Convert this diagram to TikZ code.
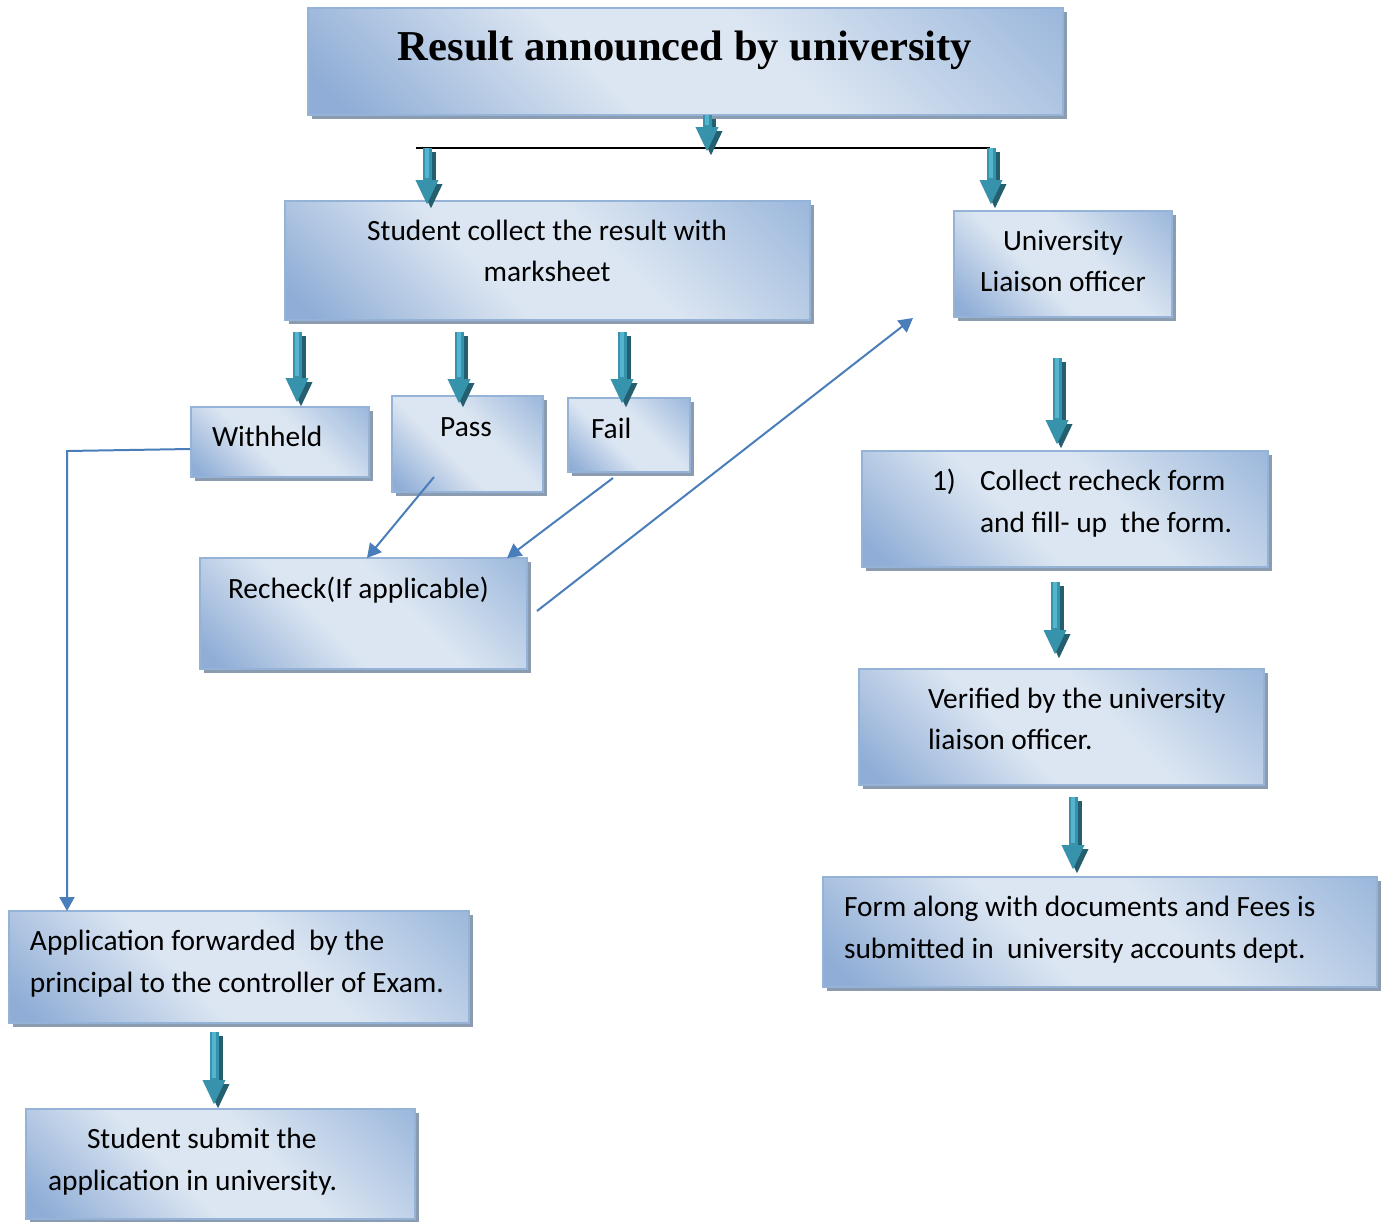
\documentclass[tikz,border=0pt]{standalone}
\usepackage{fontspec}
\setmainfont{Carlito}
\newfontfamily\titlefont{Liberation Serif}
\usetikzlibrary{arrows.meta,shadows,calc}
\definecolor{bxdark}{HTML}{8FADD6}
\definecolor{bxlight}{HTML}{DCE6F2}
\definecolor{bxmid}{HTML}{9CB8DC}
\definecolor{bxline}{HTML}{95B3D7}
\definecolor{shgray}{HTML}{8C9CB0}
\definecolor{tealbody}{HTML}{3793AB}
\definecolor{tealhi}{HTML}{55B5CE}
\definecolor{tealdark}{HTML}{235F6F}
\definecolor{connblue}{HTML}{4A7EBB}
\pgfdeclarehorizontalshading{boxsh}{100bp}{color(0bp)=(bxdark); color(18bp)=(bxdark); color(42bp)=(bxlight); color(58bp)=(bxlight); color(85bp)=(bxmid); color(100bp)=(bxmid)}
\tikzset{
  box/.style={rectangle, draw=bxline, line width=1pt, shading=boxsh, shading angle=45,
    inner sep=0pt, outer sep=0pt,
    general shadow={fill=shgray, shadow xshift=2pt, shadow yshift=-2pt}},
  txt/.style={inner sep=0pt, outer sep=0pt, font=\fontsize{14.7}{17}\selectfont},
  ttl/.style={inner sep=0pt, outer sep=0pt, font=\titlefont\fontsize{21.3}{25}\selectfont\bfseries},
  tbody/.style={draw=tealbody, line width=4.5pt, -{Triangle[width=10.5pt,length=12.5pt]}},
  tshadow/.style={draw=tealdark, line width=4.5pt, -{Triangle[width=10.5pt,length=12.5pt]}},
  thigh/.style={draw=tealhi, line width=1.6pt},
  conn/.style={draw=connblue, line width=1pt, -{Triangle[width=7.5pt,length=7pt]}},
  bar/.style={draw=black, line width=1pt}
}
\newcommand\tarr[2]{%
  \draw[tshadow] ($(#1)+(4,4)$) -- ($(#2)+(4,4)$);
  \draw[tbody] (#1) -- (#2);
  \draw[thigh] (#1) -- ($(#2)+(0,-27)$);
}
\begin{document}
\begin{tikzpicture}[x=0.5pt,y=-0.5pt]
\fill[white] (0,0) rectangle (1383,1222);
\useasboundingbox (0,0) rectangle (1383,1222);

% boxes
\node[box, minimum width=377.5pt, minimum height=53.5pt] (title) at (685.5,61.5) {};
\node[box, minimum width=262.5pt, minimum height=59.5pt] (stud) at (547.5,260.5) {};
\node[box, minimum width=109pt, minimum height=53pt] (ulo) at (1063,264) {};
\node[box, minimum width=89pt, minimum height=35pt] (with) at (280,442) {};
\node[box, minimum width=75.5pt, minimum height=48pt] (pass) at (467.5,444) {};
\node[box, minimum width=61pt, minimum height=37pt] (fail) at (629,435) {};
\node[box, minimum width=163.5pt, minimum height=55.5pt] (rech) at (363.5,613.5) {};
\node[box, minimum width=203pt, minimum height=58pt] (coll) at (1065,509) {};
\node[box, minimum width=202.5pt, minimum height=58pt] (veri) at (1061.5,727) {};
\node[box, minimum width=277pt, minimum height=55pt] (form) at (1100,932) {};
\node[box, minimum width=230pt, minimum height=56pt] (appl) at (239,967) {};
\node[box, minimum width=194.5pt, minimum height=55pt] (subm) at (220.5,1164) {};

% texts
\node[ttl, anchor=base] (titleT) at (685,60) {Result announced by university};
\node[txt, anchor=base] (studT1) at (547,240) {Student collect the result with};
\node[txt, anchor=base] (studT2) at (547,281) {marksheet};
\node[txt, anchor=base] (uloT1) at (1063,250) {University};
\node[txt, anchor=base] (uloT2) at (1063,291) {Liaison officer};
\node[txt, anchor=base west] (withT) at (212,446) {Withheld};
\node[txt, anchor=base] (passT) at (466,436) {Pass};
\node[txt, anchor=base west] (failT) at (591,438) {Fail};
\node[txt, anchor=base west] (rechT) at (228,598) {Recheck(If applicable)};
\node[txt, anchor=base west] (collN) at (932,490) {1)};
\node[txt, anchor=base west] (collT1) at (980,490) {Collect recheck form};
\node[txt, anchor=base west] (collT2) at (980,532) {and fill- up\ \ the form.};
\node[txt, anchor=base west] (veriT1) at (928,708) {Verified by the university};
\node[txt, anchor=base west] (veriT2) at (928,749) {liaison officer.};
\node[txt, anchor=base west] (formT1) at (844,916) {Form along with documents and Fees is};
\node[txt, anchor=base west] (formT2) at (844,958) {submitted in\ \ university accounts dept.};
\node[txt, anchor=base west] (applT1) at (30,950) {Application forwarded\ \ by the};
\node[txt, anchor=base west] (applT2) at (30,992) {principal to the controller of Exam.};
\node[txt, anchor=base west] (submT1) at (87,1148) {Student submit the};
\node[txt, anchor=base west] (submT2) at (48,1190) {application in university.};

% connector coordinates
\coordinate (barL) at (416,148);
\coordinate (barR) at (990,148);
\coordinate (a0s) at (707,115);  \coordinate (a0e) at (707,152);
\coordinate (a1s) at (427,148);  \coordinate (a1e) at (427,205);
\coordinate (a2s) at (991,148);  \coordinate (a2e) at (991,205);
\coordinate (a3s) at (297,332);  \coordinate (a3e) at (297,403);
\coordinate (a4s) at (459,332);  \coordinate (a4e) at (459,404);
\coordinate (a5s) at (622,332);  \coordinate (a5e) at (622,404);
\coordinate (a6s) at (1057,358); \coordinate (a6e) at (1057,445);
\coordinate (a7s) at (1055,582); \coordinate (a7e) at (1055,655);
\coordinate (a8s) at (1073,797); \coordinate (a8e) at (1073,870);
\coordinate (a9s) at (214,1032); \coordinate (a9e) at (214,1105);

\coordinate (wS) at (190,449);
\coordinate (wK) at (67,451);
\coordinate (wE) at (67,911);
\coordinate (pS) at (434,477);
\coordinate (pE) at (367,558);
\coordinate (fS) at (613,478);
\coordinate (fE) at (507,558);
\coordinate (rS) at (537,611);
\coordinate (rE) at (913,318);

% black bar
\draw[bar] (barL) -- (barR);

% teal arrows
\tarr{a0s}{a0e}
\tarr{a1s}{a1e}
\tarr{a2s}{a2e}
\tarr{a3s}{a3e}
\tarr{a4s}{a4e}
\tarr{a5s}{a5e}
\tarr{a6s}{a6e}
\tarr{a7s}{a7e}
\tarr{a8s}{a8e}
\tarr{a9s}{a9e}

% blue connectors
\draw[conn] (wS) -- (wK) -- (wE);
\draw[conn] (pS) -- (pE);
\draw[conn] (fS) -- (fE);
\draw[conn] (rS) -- (rE);
\end{tikzpicture}
\end{document}
